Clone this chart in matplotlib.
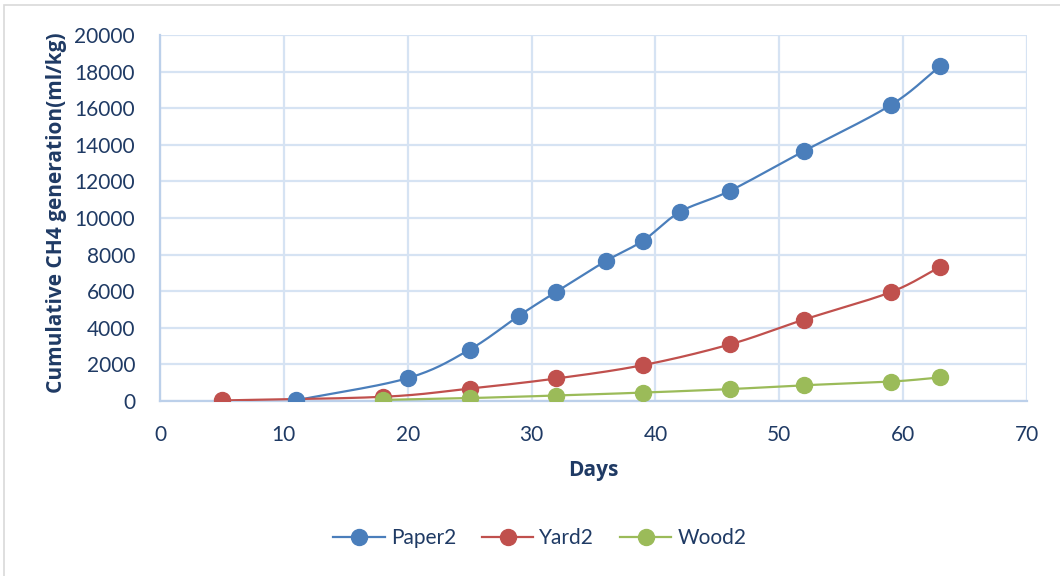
import numpy as np
import matplotlib
matplotlib.use("Agg")
import matplotlib.pyplot as plt
from matplotlib.patches import Rectangle
from matplotlib.lines import Line2D

# Cumulative CH4 generation (ml/kg) by day
paper_days = [11, 20, 25, 29, 32, 36, 39, 42, 46, 52, 59, 63]
paper_vals = [40, 1250, 2810, 4670, 5970, 7650, 8760, 10340, 11480, 13660, 16170, 18300]

yard_days = [5, 18, 25, 32, 39, 46, 52, 59, 63]
yard_vals = [30, 230, 680, 1230, 1960, 3090, 4450, 5950, 7330]

wood_days = [18, 25, 32, 39, 46, 52, 59, 63]
wood_vals = [60, 160, 300, 460, 650, 860, 1060, 1290]

series_names = ["Paper2", "Yard2", "Wood2"]
colors = ["#4A7EBB", "#C0504D", "#9BBB59"]

x_ticks = [0, 10, 20, 30, 40, 50, 60, 70]
y_ticks = [0, 2000, 4000, 6000, 8000, 10000, 12000, 14000, 16000, 18000, 20000]

text_color = "#1F3A64"
grid_color = "#D6E3F3"

plt.rcParams["font.family"] = ["Lato", "DejaVu Sans"]
title_font = ["Open Sans", "DejaVu Sans"]


def smooth_curve(xs, ys, n=30):
    """Catmull-Rom style smoothing through all points (like a spreadsheet smoothed line)."""
    xs = np.asarray(xs, float)
    ys = np.asarray(ys, float)
    px = np.concatenate([[2 * xs[0] - xs[1]], xs, [2 * xs[-1] - xs[-2]]])
    py = np.concatenate([[2 * ys[0] - ys[1]], ys, [2 * ys[-1] - ys[-2]]])
    out_x, out_y = [], []
    t = np.linspace(0, 1, n)
    for i in range(1, len(px) - 2):
        p0, p1, p2, p3 = (np.array([px[j], py[j]]) for j in range(i - 1, i + 3))
        c1 = p1 + (p2 - p0) / 6.0
        c2 = p2 - (p3 - p1) / 6.0
        b = ((1 - t) ** 3)[:, None] * p1 + (3 * (1 - t) ** 2 * t)[:, None] * c1 \
            + (3 * (1 - t) * t ** 2)[:, None] * c2 + (t ** 3)[:, None] * p2
        out_x.extend(b[:, 0])
        out_y.extend(b[:, 1])
    return np.array(out_x), np.array(out_y)


fig = plt.figure(figsize=(10.6, 5.76), dpi=100)
ax = fig.add_axes([160 / 1060, 1 - 401 / 576, (1027 - 160) / 1060, (401 - 35) / 576])

# outer chart border
fig.patches.append(Rectangle((4 / 1060, -0.01), 1.02, 1 - 5 / 576 + 0.01,
                             transform=fig.transFigure, fill=False,
                             edgecolor="#D9D9D9", linewidth=1.2))

data = [(paper_days, paper_vals), (yard_days, yard_vals), (wood_days, wood_vals)]
for (d, v), c, name in zip(data, colors, series_names):
    sx, sy = smooth_curve(d, v)
    ax.plot(sx, sy, color=c, linewidth=1.6, zorder=3)
    ax.plot(d, v, linestyle="none", marker="o", markersize=11.5,
            markerfacecolor=c, markeredgecolor=c, zorder=4)

ax.set_xlim(0, 70)
ax.set_ylim(0, 20000)
ax.set_xticks(x_ticks)
ax.set_yticks(y_ticks)
ax.grid(True, color=grid_color, linewidth=1.6)
ax.set_axisbelow(True)
for s in ["top", "right"]:
    ax.spines[s].set_visible(False)
for s in ["left", "bottom"]:
    ax.spines[s].set_color("#BCD0EA")
    ax.spines[s].set_linewidth(1.6)
ax.tick_params(length=0, labelsize=15, colors=text_color)
ax.tick_params(axis="x", pad=17)
ax.tick_params(axis="y", pad=18)

ax.set_xlabel("Days", fontsize=15, fontweight="bold", color=text_color,
              labelpad=11, family=title_font)
ax.set_ylabel("Cumulative CH4 generation(ml/kg)", fontsize=15, fontweight="bold",
              color=text_color, family=title_font)
ax.yaxis.set_label_coords(67 / 1060, 1 - 213 / 576, transform=fig.transFigure)

handles = [Line2D([0], [0], color=c, linewidth=1.6, marker="o", markersize=11.5,
                  markerfacecolor=c, markeredgecolor=c) for c in colors]
fig.legend(handles, series_names, loc="center", bbox_to_anchor=(540 / 1060, 1 - 538 / 576),
           ncol=3, frameon=False, fontsize=15, labelcolor=text_color,
           handlelength=2.45, columnspacing=1.25, handletextpad=0.3)

fig.savefig("out.png", dpi=100)
